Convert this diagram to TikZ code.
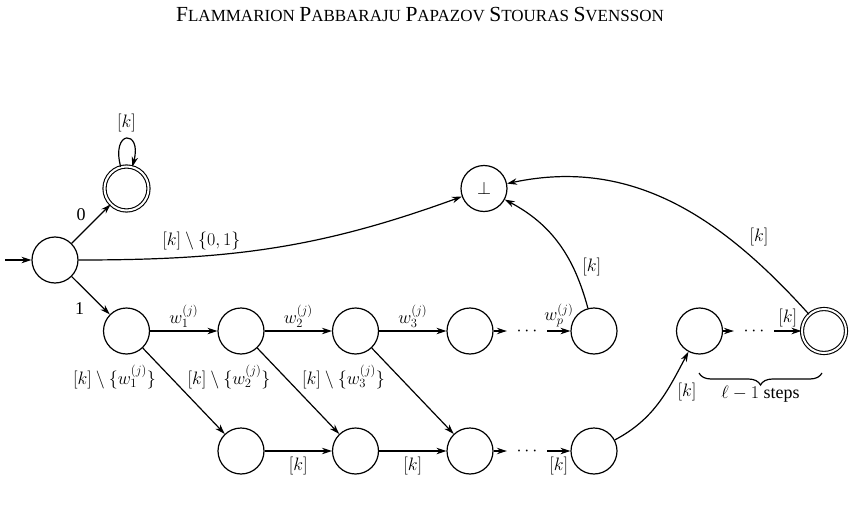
\RequirePackage{fix-cm}
\documentclass[tikz,border=0pt]{standalone}
\usepackage[no-math]{fontspec}
\setmainfont{Liberation Serif}
\usetikzlibrary{arrows.meta,decorations.pathreplacing,calc}
\newcommand\hsc[2]{{\fontsize{21.5}{21.5}\selectfont #1}{\fontsize{17}{17}\selectfont #2}}
\begin{document}
\begin{tikzpicture}[x=1pt,y=1pt,
  every node/.style={font=\fontsize{18}{22}\selectfont},
  st/.style={circle,draw,line width=1.2pt,minimum size=46pt,inner sep=0pt},
  acc/.style={circle,draw,line width=1.1pt,double,double distance=2pt,minimum size=44pt,inner sep=0pt},
  dotsnode/.style={inner sep=0pt,minimum width=40pt,minimum height=20pt},
  edge/.style={line width=1.2pt,-{Stealth[length=10pt,width=6.5pt]}},
  lbl/.style={inner sep=3pt}]
\useasboundingbox (0,0) rectangle (855,-506);
% header
\node (hdr) at (420,-15) {\hsc{F}{LAMMARION} \hsc{P}{ABBARAJU} \hsc{P}{APAZOV} \hsc{S}{TOURAS} \hsc{S}{VENSSON}};
% states
\node[st] (q0) at (55,-260) {};
\node[acc] (qa) at (126.5,-188.5) {};
\node[st] (bot) at (484,-188.5) {$\bot$};
\node[st] (r1) at (126.5,-331) {};
\node[st] (r2) at (241,-331) {};
\node[st] (r3) at (355.5,-331) {};
\node[st] (r4) at (470,-331) {};
\node[dotsnode] (d1) at (527,-331) {$\cdots$};
\node[st] (rp) at (594,-331) {};
\node[st] (s2) at (241,-451) {};
\node[st] (s3) at (355.5,-451) {};
\node[st] (s4) at (470,-451) {};
\node[dotsnode] (d2) at (527,-451) {$\cdots$};
\node[st] (sp) at (594,-451) {};
\node[st] (q2) at (699.5,-331) {};
\node[dotsnode] (d3) at (754,-331) {$\cdots$};
\node[acc] (qf) at (824,-331) {};
\coordinate (init) at (5,-260);
% edges
\draw[edge] (init) -- (q0);
\draw[edge] (q0) -- node[lbl,above left,xshift=-2pt]{0} (qa);
\draw[edge] (q0) -- node[lbl,below left,xshift=-3pt,yshift=-4pt]{1} (r1);
\draw[edge] (qa) to[out=105,in=75,looseness=8.5] node[above,inner sep=6pt]{$[k]$} (qa);
\draw[edge] (q0) to[out=0,in=200] node[lbl,above,pos=0.3,yshift=3pt]{$[k]\setminus\{0,1\}$} (bot);
\draw[edge] (r1) -- node[lbl,above]{$w_1^{(j)}$} (r2);
\draw[edge] (r2) -- node[lbl,above]{$w_2^{(j)}$} (r3);
\draw[edge] (r3) -- node[lbl,above]{$w_3^{(j)}$} (r4);
\draw[edge] (r4) -- (d1);
\draw[edge] (d1) -- node[lbl,above]{$w_p^{(j)}$} (rp);
\draw[edge] (r1) -- (s2);
\draw[edge] (r2) -- (s3);
\draw[edge] (r3) -- (s4);
\node (l1) at ($(r1)+(-12,-46)$) {$[k]\setminus\{w_1^{(j)}\}$};
\node (l2) at ($(r2)+(-12,-46)$) {$[k]\setminus\{w_2^{(j)}\}$};
\node (l3) at ($(r3)+(-12,-46)$) {$[k]\setminus\{w_3^{(j)}\}$};
\draw[edge] (s2) -- node[lbl,below,yshift=-2pt]{$[k]$} (s3);
\draw[edge] (s3) -- node[lbl,below,yshift=-2pt]{$[k]$} (s4);
\draw[edge] (s4) -- (d2);
\draw[edge] (d2) -- node[lbl,below,yshift=-2pt]{$[k]$} (sp);
\draw[edge] (sp) to[out=28,in=242] node[lbl,right,pos=0.62,xshift=8pt]{$[k]$} (q2);
\draw[edge] (q2) -- (d3);
\draw[edge] (d3) -- node[lbl,above]{$[k]$} (qf);
\draw[edge] (rp) to[out=105,in=332] node[lbl,right,pos=0.3,xshift=6pt]{$[k]$} (bot);
\draw[edge] (qf) to[out=132,in=12] node[lbl,above right,pos=0.25,xshift=3pt]{$[k]$} (bot);
\draw[line width=1.2pt,decorate,decoration={brace,mirror,amplitude=12pt}] (699,-373) -- (822,-373) node[midway,below=9pt] (br) {$\ell-1$ steps};
\end{tikzpicture}
\end{document}
